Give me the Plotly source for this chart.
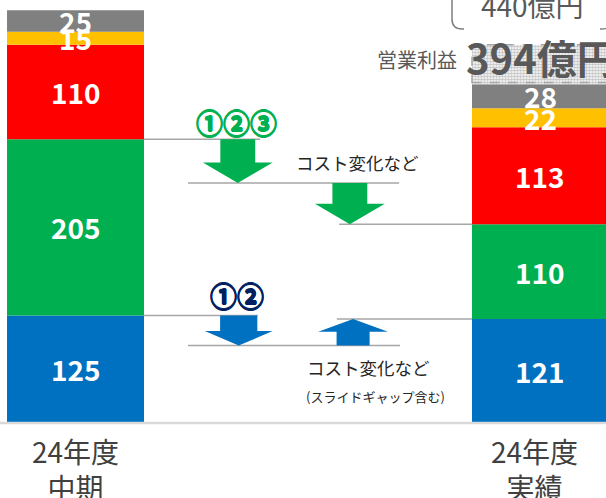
import plotly.graph_objects as go

# ---------------- data ----------------
categories = ["24年度<br>中期", "24年度<br>実績"]
segment_colors = ["#0070C0", "#00B050", "#FF0000", "#FFC000", "#808080"]  # bottom -> top
plan_values = [125, 205, 110, 15, 25]
actual_values = [121, 110, 113, 22, 28]
target_total = 440
green_bridge = [-51, -48]   # 24年度中期 green top -> ①②③ -> コスト変化など
blue_bridge = [-35, 31]     # 24年度中期 blue top -> ①② -> コスト変化など
green_bridge_label = "①②③"
blue_bridge_label = "①②"
cost_label = "コスト変化など"
cost_sub_label = "(スライドギャップ含む)"
profit_label = "営業利益"
target_label = "440億円"

# ---------------- layout constants ----------------
W, H = 606, 498
FONT = "Noto Sans CJK JP, Noto Sans, sans-serif"
bar_w = 0.2946
x_range = [-0.1624, 1.1409]
y_range = [-87.2, 491.9]
GRID = "#a6a6a6"
TXT = "#595959"


def px(xp, yp):
    """pixel -> paper coordinates (plot area == whole figure)."""
    return xp / W, 1 - yp / H


fig = go.Figure()
xs = list(range(len(categories)))
series = [plan_values, actual_values]

# stacked segments (explicit bases)
bases = [0, 0]
for si, color in enumerate(segment_colors):
    vals = [series[c][si] for c in xs]
    fig.add_trace(go.Bar(x=xs, y=vals, base=list(bases), width=bar_w,
                         marker=dict(color=color, line=dict(width=0)),
                         hoverinfo="skip"))
    for c in xs:
        fig.add_annotation(x=c, y=bases[c] + vals[c] / 2, text=f"<b>{vals[c]}</b>",
                           showarrow=False, font=dict(family=FONT, size=28, color="white"),
                           xanchor="center", yanchor="middle")
        bases[c] += vals[c]

actual_total = sum(actual_values)

# hatched gap up to target
fig.add_trace(go.Bar(x=[1], y=[target_total - actual_total], base=[actual_total], width=bar_w,
                     marker=dict(color="white", line=dict(width=0),
                                 pattern=dict(shape=".", size=3, solidity=0.65,
                                              fgcolor="#8c8c8c", bgcolor="white")),
                     hoverinfo="skip"))
fig.add_shape(type="rect", x0=1 - bar_w / 2, x1=1 + bar_w / 2, y0=actual_total + 2, y1=target_total,
              line=dict(color=GRID, width=1.5, dash="dash"), fillcolor="rgba(0,0,0,0)")

# baseline
fig.add_shape(type="line", xref="paper", x0=0, x1=1, y0=0, y1=0,
              line=dict(color="#d9d9d9", width=2.5))


def bridge(start, steps, color, arrow_x, seg_x, heads):
    levels = [start]
    for s in steps:
        levels.append(levels[-1] + s)
    # connector lines
    for (x0, x1), lvl in zip(seg_x, levels):
        fig.add_shape(type="line", x0=x0, x1=x1, y0=lvl, y1=lvl,
                      line=dict(color=GRID, width=1.5))
    # arrows
    for i, xc in enumerate(arrow_x):
        y0, y1 = levels[i], levels[i + 1]
        sw, hw, hl = heads[i]
        d = 1 if y1 > y0 else -1
        yn = y1 - d * hl
        pts = [(xc - sw / 2, y0), (xc + sw / 2, y0), (xc + sw / 2, yn), (xc + hw / 2, yn),
               (xc, y1), (xc - hw / 2, yn), (xc - sw / 2, yn)]
        path = "M " + " L ".join(f"{a},{b}" for a, b in pts) + " Z"
        fig.add_shape(type="path", path=path, fillcolor=color, line=dict(width=0))
    return levels


left_edge = bar_w / 2
right_edge = 1 - bar_w / 2

green_start = plan_values[0] + plan_values[1]
bridge(green_start, green_bridge, "#00B050",
       arrow_x=[0.349, 0.590],
       seg_x=[(left_edge, 0.397), (0.242, 0.696), (0.567, right_edge)],
       heads=[(0.075, 0.15, 24), (0.075, 0.15, 24)])

blue_start = plan_values[0]
bridge(blue_start, blue_bridge, "#0070C0",
       arrow_x=[0.351, 0.597],
       seg_x=[(left_edge, 0.392), (0.242, 0.698), (0.562, right_edge)],
       heads=[(0.08, 0.146, 17), (0.071, 0.15, 15)])


def text(xp, yp, s, size, color, anchor="center", bold=False, thick=False):
    x, y = px(xp, yp)
    f = dict(family=FONT, size=size, color=color)
    if thick:
        s_ = "0.6px 0 0 {c}, -0.6px 0 0 {c}, 0 0.6px 0 {c}, 0 -0.6px 0 {c}".format(c=color)
        f["shadow"] = s_
    fig.add_annotation(xref="paper", yref="paper", x=x, y=y,
                       text=f"<b>{s}</b>" if bold else s, showarrow=False,
                       font=f, xanchor=anchor, yanchor="middle")


text(236, 123, green_bridge_label, 27, "#00B050", bold=True, thick=True)
text(237, 295, blue_bridge_label, 27, "#002060", bold=True, thick=True)
text(357, 162, cost_label, 17.5, "#262626")
text(368, 367, cost_label, 17.5, "#262626")
text(375, 396, cost_sub_label, 13, "#262626")
text(459, 60, profit_label, 20, TXT, anchor="right")
text(464, 57, f"{actual_total}億円", 40, TXT, anchor="left", bold=True)
text(532, 5, target_label, 28, TXT)

# bracket pair around the target label (pixel path -> paper)
for path in ["M 452,-10 L 452,19 Q 452,29 462,29 L 464,29",
             "M 612,-10 L 612,19 Q 612,29 602,29 L 600,29"]:
    out = []
    for t in path.split():
        if "," in t:
            a, b = map(float, t.split(","))
            pa, pb = px(a, b)
            out.append(f"{pa},{pb}")
        else:
            out.append(t)
    fig.add_shape(type="path", xref="paper", yref="paper", path=" ".join(out),
                  line=dict(color="#7f7f7f", width=1.5))

# category labels
for c, lab in zip(xs, categories):
    fig.add_annotation(x=c, y=0, yshift=-46, text=lab, showarrow=False,
                       xshift=0 if c == 0 else -6,
                       font=dict(family=FONT, size=28, color="#404040"),
                       xanchor="center", yanchor="middle")

fig.update_layout(
    width=W, height=H, margin=dict(l=0, r=0, t=0, b=0),
    barmode="overlay", showlegend=False,
    plot_bgcolor="white", paper_bgcolor="white",
    xaxis=dict(visible=False, range=x_range, fixedrange=True),
    yaxis=dict(visible=False, range=y_range, fixedrange=True),
)

fig.write_html("out.html", config={"displayModeBar": False},
               post_script="document.body.style.margin='0';document.body.style.overflow='hidden';")
